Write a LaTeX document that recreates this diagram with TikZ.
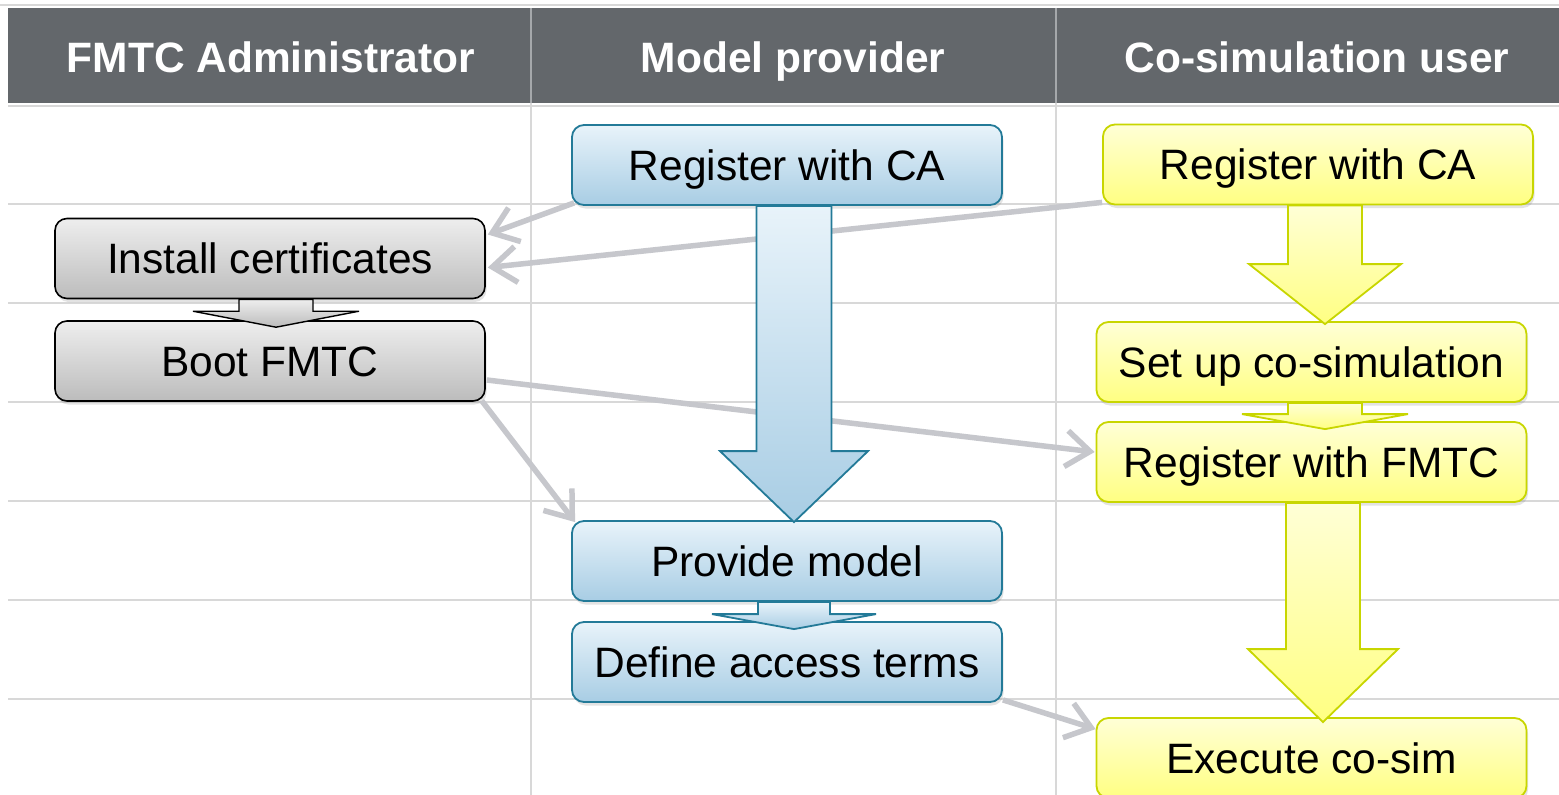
\documentclass[tikz,border=0pt]{standalone}
\usepackage{fontspec}
\setmainfont{Liberation Sans}
\usetikzlibrary{arrows.meta,shadows,calc}
\definecolor{hdr}{RGB}{99,103,107}
\definecolor{hdrline}{RGB}{165,168,171}
\definecolor{gridc}{RGB}{216,216,216}
\definecolor{conn}{RGB}{198,199,204}
\definecolor{bluetop}{RGB}{232,243,250}
\definecolor{bluebot}{RGB}{168,205,228}
\definecolor{blueedge}{RGB}{35,122,152}
\definecolor{yeltop}{RGB}{255,255,214}
\definecolor{yelbot}{RGB}{255,255,130}
\definecolor{yeledge}{RGB}{200,214,0}
\definecolor{graytop}{RGB}{238,238,238}
\definecolor{graybot}{RGB}{188,188,188}
\newcommand\blockarr[8]{%
  \path[#1] let \p1=(#2.south), \p2=(#3.north) in
    (\x1+#4pt-#5pt,\y1) -- (\x1+#4pt-#5pt,\y2-#8pt+#7pt) -- (\x1+#4pt-#6pt,\y2-#8pt+#7pt)
    -- (\x1+#4pt,\y2-#8pt) -- (\x1+#4pt+#6pt,\y2-#8pt+#7pt) -- (\x1+#4pt+#5pt,\y2-#8pt+#7pt)
    -- (\x1+#4pt+#5pt,\y1) -- cycle;}
\begin{document}
\begin{tikzpicture}[x=1pt,y=-1pt,
  box/.style={rounded corners=12pt, minimum width=430pt, minimum height=80pt, inner sep=0pt,
    text height=30pt, text depth=0pt, font=\fontsize{42.5}{48}\selectfont,
    drop shadow={shadow xshift=1.5pt, shadow yshift=-3.5pt, opacity=0.22}},
  bluebox/.style={box, draw=blueedge, line width=1.8pt, top color=bluetop, bottom color=bluebot},
  yelbox/.style={box, draw=yeledge, line width=1.8pt, top color=yeltop, bottom color=yelbot},
  graybox/.style={box, draw=black, line width=1.6pt, top color=graytop, bottom color=graybot},
  hdrtxt/.style={text=white, inner sep=0pt, text height=30pt, text depth=0pt,
    font=\fontsize{42.5}{48}\selectfont\bfseries},
  conline/.style={draw=conn, line width=5.5pt, -{Straight Barb[length=24pt,width=36pt]}},
  bluearr/.style={draw=blueedge, line width=1.8pt, top color=bluetop, bottom color=bluebot, line join=miter},
  yelarr/.style={draw=yeledge, line width=1.8pt, top color=yeltop, bottom color=yelbot, line join=miter},
  grayarr/.style={draw=black, line width=1.4pt, top color=graytop, bottom color=graybot, line join=miter},
  gridline/.style={draw=gridc, line width=1.5pt}
]
\useasboundingbox (0,0) rectangle (1559,795);
\fill[white] (0,0) rectangle (1559,795);
% table
\draw[gridline] (0,5) -- (1559,5);
\fill[hdr] (8,8) rectangle (1559,103);
\draw[hdrline, line width=1.5pt] (531,8) -- (531,103) (1056,8) -- (1056,103);
\foreach \yy in {106,204,303,402,501,600,699}
  \draw[gridline] (8,\yy) -- (1559,\yy);
\draw[gridline] (531,103) -- (531,795) (1056,103) -- (1056,795);
% headers
\node[hdrtxt] (h1) at (271,57) {FMTC Administrator};
\node[hdrtxt] (h2) at (793,57) {Model provider};
\node[hdrtxt] (h3) at (1317,57) {Co-simulation user};
% boxes
\node[graybox] (ic) at (270,258.5) {Install certificates};
\node[graybox] (boot) at (270,361) {Boot FMTC};
\node[bluebox] (mpreg) at (787,165) {Register with CA};
\node[bluebox] (pm) at (787,561) {Provide model};
\node[bluebox] (dat) at (787,662) {Define access terms};
\node[yelbox] (yreg) at (1318,164.5) {Register with CA};
\node[yelbox] (setup) at (1311.5,362) {Set up co-simulation};
\node[yelbox] (rfm) at (1311.5,462) {Register with FMTC};
\node[yelbox] (ex) at (1311.5,758) {Execute co-sim};
% connectors
\draw[conline] ([xshift=3pt,yshift=3pt]mpreg.south west) -- ([xshift=2pt,yshift=24pt]ic.east);
\draw[conline] ([yshift=3pt]yreg.south west) -- ([xshift=2pt,yshift=-9pt]ic.east);
\draw[conline] ([xshift=1pt,yshift=-19pt]boot.east) -- ([xshift=-1pt,yshift=10pt]rfm.west);
\draw[conline] ([xshift=-4pt,yshift=1pt]boot.south east) -- ([xshift=4pt,yshift=-2pt]pm.north west);
\draw[conline] ([yshift=3pt]dat.south east) -- ([yshift=-12pt]ex.north west);
% block arrows
\blockarr{grayarr}{ic}{boot}{6}{37}{83}{16}{7}
\blockarr{bluearr}{mpreg}{pm}{7}{37.5}{74}{71}{2}
\blockarr{bluearr}{pm}{dat}{7}{36}{82}{15}{8}
\blockarr{yelarr}{yreg}{setup}{7}{37}{76}{60}{3}
\blockarr{yelarr}{setup}{rfm}{13.5}{37}{83}{15}{8}
\blockarr{yelarr}{rfm}{ex}{11.5}{37}{75}{73}{5}
\end{tikzpicture}
\end{document}
